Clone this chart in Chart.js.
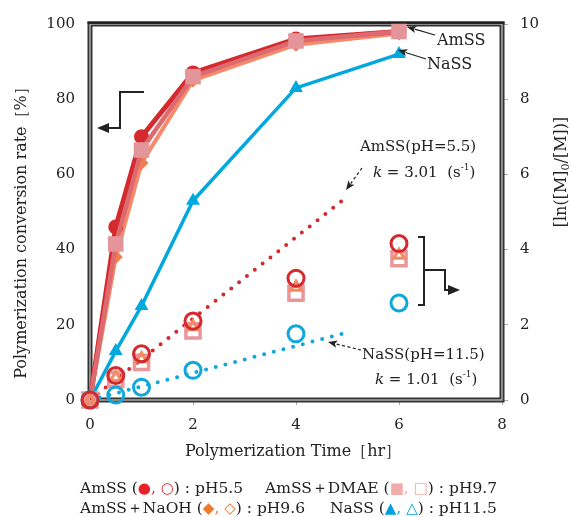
<!DOCTYPE html>
<html>
<head>
<meta charset="utf-8">
<script src="https://cdn.jsdelivr.net/npm/chart.js@4.4.0/dist/chart.umd.min.js"></script>
<style>
  html, body { margin: 0; padding: 0; background: #fff; }
  #wrap { width: 571px; height: 517px; }
</style>
</head>
<body>
<div id="wrap"><canvas id="chart" width="571" height="517"></canvas></div>
<script>
// polymerization time (hr)
const timeHr = [0, 0.5, 1, 2, 4, 6];

// conversion rate (%), left axis
const convAmSS = [0, 46, 70, 87, 96, 98];
const convDMAE = [0, 41.5, 66.5, 86, 95.5, 98];
const convNaOH = [0, 38, 63, 85, 94.5, 97.5];
const convNaSS = [0, 13, 25, 53, 83, 92];

// ln([M]0/[M]), right axis
const lnAmSS = [0, 0.65, 1.23, 2.1, 3.24, 4.16];
const lnDMAE = [0, 0.55, 1.0, 1.84, 2.84, 3.76];
const lnNaOH = [0, 0.6, 1.1, 1.95, 3.0, 3.85];
const lnNaSS = [0, 0.13, 0.34, 0.79, 1.76, 2.58];

// fitted lines (start / end), right axis
const fitX = [0, 4.98];
const fitAmSS = [0, 5.39];
const fitNaSS = [0, 1.79];

const SERIF = "'DejaVu Serif', 'Liberation Serif', serif";
const INK = '#222';

function pts(xs, ys) {
    return xs.map((x, i) => ({ x: x, y: ys[i] }));
}

function arrow(ctx, x1, y1, x2, y2, dashed) {
    ctx.save();
    ctx.strokeStyle = INK;
    ctx.fillStyle = INK;
    ctx.lineWidth = 1.2;
    if (dashed) ctx.setLineDash([3, 2.5]);
    const a = Math.atan2(y2 - y1, x2 - x1);
    const hl = 10;
    ctx.beginPath();
    ctx.moveTo(x1, y1);
    ctx.lineTo(x2 - Math.cos(a) * hl * 0.8, y2 - Math.sin(a) * hl * 0.8);
    ctx.stroke();
    ctx.setLineDash([]);
    ctx.beginPath();
    ctx.moveTo(x2, y2);
    ctx.lineTo(x2 - hl * Math.cos(a - 0.38), y2 - hl * Math.sin(a - 0.38));
    ctx.lineTo(x2 - hl * 0.7 * Math.cos(a), y2 - hl * 0.7 * Math.sin(a));
    ctx.lineTo(x2 - hl * Math.cos(a + 0.38), y2 - hl * Math.sin(a + 0.38));
    ctx.closePath();
    ctx.fill();
    ctx.restore();
}

// draw a list of text runs left to right
function runs(ctx, x, y, list, size) {
    ctx.save();
    ctx.textBaseline = 'middle';
    ctx.textAlign = 'left';
    list.forEach(r => {
        const s = r.size || size;
        ctx.font = (r.italic ? 'italic ' : '') + s + 'px ' + (r.family || SERIF);
        ctx.fillStyle = r.color || INK;
        ctx.fillText(r.t, x, y + (r.dy || 0));
        x += ctx.measureText(r.t).width;
    });
    ctx.restore();
    return x;
}

function kLabel(ctx, x, y, value) {
    runs(ctx, x, y, [
        { t: 'k', italic: true },
        { t: ' = ' + value + '  (s' },
        { t: '-1', size: 9, dy: -5 },
        { t: ')' }
    ], 15);
}

const decor = {
    id: 'decor',
    beforeDatasetsDraw(chart) {
        const { ctx, chartArea: a } = chart;
        ctx.save();
        ctx.strokeStyle = '#333';
        ctx.lineWidth = 5;
        ctx.strokeRect(a.left, a.top, a.right - a.left, a.bottom - a.top);
        ctx.strokeStyle = '#c9c9c9';
        ctx.lineWidth = 1.2;
        ctx.strokeRect(a.left, a.top, a.right - a.left, a.bottom - a.top);
        ctx.fillStyle = '#222';
        ctx.fillRect(a.left - 2.5, a.top - 2.5, a.right - a.left + 5, 2.5);
        ctx.restore();
    },
    afterDatasetsDraw(chart) {
        const ctx = chart.ctx;

        // series labels at the end of the curves
        runs(ctx, 437, 41, [{ t: 'AmSS' }], 16);
        runs(ctx, 427, 65, [{ t: 'NaSS' }], 16);
        arrow(ctx, 435, 35, 407, 27, false);
        arrow(ctx, 426, 59, 398, 50, false);

        // rate constants
        runs(ctx, 360, 147, [{ t: 'AmSS(pH=5.5)' }], 15);
        kLabel(ctx, 373, 173, '3.01');
        arrow(ctx, 362, 168, 346, 190, true);
        runs(ctx, 362, 355, [{ t: 'NaSS(pH=11.5)' }], 15);
        kLabel(ctx, 375, 380, '1.01');
        arrow(ctx, 361, 350, 328, 342, true);

        // axis pointers
        ctx.save();
        ctx.strokeStyle = INK;
        ctx.lineWidth = 2;
        ctx.beginPath();
        ctx.moveTo(144, 92);
        ctx.lineTo(120, 92);
        ctx.lineTo(120, 128);
        ctx.lineTo(106, 128);
        ctx.stroke();
        ctx.beginPath();
        ctx.moveTo(418, 237);
        ctx.lineTo(424, 237);
        ctx.lineTo(424, 305);
        ctx.lineTo(418, 305);
        ctx.moveTo(424, 270);
        ctx.lineTo(445, 270);
        ctx.lineTo(445, 290);
        ctx.lineTo(452, 290);
        ctx.stroke();
        ctx.fillStyle = INK;
        ctx.beginPath();
        ctx.moveTo(97, 128);
        ctx.lineTo(109, 123);
        ctx.lineTo(109, 133);
        ctx.closePath();
        ctx.fill();
        ctx.beginPath();
        ctx.moveTo(460, 290);
        ctx.lineTo(448, 285);
        ctx.lineTo(448, 295);
        ctx.closePath();
        ctx.fill();
        ctx.restore();

        // axis titles
        ctx.save();
        ctx.fillStyle = INK;
        ctx.textAlign = 'center';
        ctx.textBaseline = 'middle';
        ctx.font = '16px ' + SERIF;
        ctx.fillText('Polymerization Time［hr］', 293, 452);
        ctx.translate(22, 229);
        ctx.rotate(-Math.PI / 2);
        ctx.fillText('Polymerization conversion rate［%］', 0, 0);
        ctx.restore();

        ctx.save();
        ctx.translate(562, 172);
        ctx.rotate(-Math.PI / 2);
        const parts = [{ t: '[ln([M]' }, { t: '0', size: 11, dy: 4 }, { t: '/[M])]' }];
        let w = 0;
        parts.forEach(p => {
            ctx.font = (p.size || 16) + 'px ' + SERIF;
            w += ctx.measureText(p.t).width;
        });
        runs(ctx, -w / 2, 0, parts, 16);
        ctx.restore();

        // legend
        const red = '#e8202a', pink = '#f2aaaa', orange = '#f07828', cyan = '#00a0e0';
        const SYM = "'DejaVu Sans', sans-serif";
        runs(ctx, 80, 489, [
            { t: 'AmSS (' },
            { t: '●', color: red, family: SYM, size: 15 },
            { t: ', ', color: red },
            { t: '○', color: red, family: SYM, size: 15 },
            { t: ') : pH5.5' }
        ], 15.5);
        runs(ctx, 265, 489, [
            { t: 'AmSS＋DMAE (' },
            { t: '■', color: pink, family: SYM, size: 15 },
            { t: ', ', color: pink },
            { t: '□', color: pink, family: SYM, size: 15 },
            { t: ') : pH9.7' }
        ], 15.5);
        runs(ctx, 80, 509, [
            { t: 'AmSS＋NaOH (' },
            { t: '◆', color: orange, family: SYM, size: 15 },
            { t: ', ', color: orange },
            { t: '◇', color: orange, family: SYM, size: 15 },
            { t: ') : pH9.6' }
        ], 15.5);
        runs(ctx, 330, 509, [
            { t: 'NaSS (' },
            { t: '▲', color: cyan, family: SYM, size: 15 },
            { t: ', ', color: cyan },
            { t: '△', color: cyan, family: SYM, size: 15 },
            { t: ') : pH11.5' }
        ], 15.5);
    }
};

const ctx = document.getElementById('chart').getContext('2d');

new Chart(ctx, {
    type: 'scatter',
    data: {
        datasets: [
            // open markers, right axis (drawn on top)
            { data: pts(timeHr, lnAmSS), yAxisID: 'y1', pointStyle: 'circle', pointRadius: 8, borderColor: '#d42a2e', backgroundColor: 'transparent', borderWidth: 3, clip: false },
            { data: pts(timeHr, lnNaSS), yAxisID: 'y1', pointStyle: 'circle', pointRadius: 8, borderColor: '#10a8dc', backgroundColor: 'transparent', borderWidth: 3, clip: false },
            { data: pts(timeHr, lnNaOH), yAxisID: 'y1', pointStyle: 'triangle', pointRadius: 6, borderColor: '#f58a62', backgroundColor: 'transparent', borderWidth: 3, clip: false },
            { data: pts(timeHr, lnDMAE), yAxisID: 'y1', pointStyle: 'rect', pointRadius: 10, borderColor: '#e8989c', backgroundColor: 'transparent', borderWidth: 3.5, clip: false },
            // fitted dotted lines
            { data: pts(fitX, fitAmSS), yAxisID: 'y1', showLine: true, pointRadius: 0, borderColor: '#d42a2e', borderWidth: 4, borderDash: [0, 10], borderCapStyle: 'round' },
            { data: pts(fitX, fitNaSS), yAxisID: 'y1', showLine: true, pointRadius: 0, borderColor: '#10a8dc', borderWidth: 4, borderDash: [0, 10], borderCapStyle: 'round' },
            // conversion curves, left axis
            { data: pts(timeHr, convDMAE), yAxisID: 'y', showLine: true, pointStyle: 'rect', pointRadius: 11, borderColor: '#dc6a70', borderWidth: 4.5, pointBackgroundColor: '#e4959a', pointBorderColor: '#e4959a', pointBorderWidth: 0, clip: false },
            { data: pts(timeHr, convAmSS), yAxisID: 'y', showLine: true, pointStyle: 'circle', pointRadius: 7.5, borderColor: '#d42a2e', borderWidth: 5, pointBackgroundColor: '#d42a2e', pointBorderColor: '#d42a2e', pointBorderWidth: 0, clip: false },
            { data: pts(timeHr, convNaOH), yAxisID: 'y', showLine: true, pointStyle: 'rectRot', pointRadius: 7, borderColor: '#f58a68', borderWidth: 4, pointBackgroundColor: '#f07c50', pointBorderColor: '#f07c50', pointBorderWidth: 0, clip: false },
            { data: pts(timeHr, convNaSS), yAxisID: 'y', showLine: true, pointStyle: 'triangle', pointRadius: 8, borderColor: '#00a8de', borderWidth: 3.5, pointBackgroundColor: '#00a8de', pointBorderColor: '#00a8de', pointBorderWidth: 0, clip: false }
        ]
    },
    options: {
        responsive: false,
        animation: false,
        devicePixelRatio: 1,
        events: [],
        layout: { padding: { top: 19, left: 0, right: 0, bottom: 0 } },
        plugins: { legend: { display: false }, tooltip: { enabled: false } },
        scales: {
            x: {
                type: 'linear', position: 'bottom', min: 0, max: 8,
                ticks: { stepSize: 2, color: INK, padding: 11, font: { family: SERIF, size: 15 } },
                grid: { drawOnChartArea: false, drawTicks: true, tickLength: 5, color: '#aaa' },
                border: { display: false },
                afterFit(s) { s.height = 117; }
            },
            y: {
                position: 'left', min: 0, max: 100,
                ticks: { stepSize: 20, color: INK, padding: 15, font: { family: SERIF, size: 15 } },
                grid: { drawOnChartArea: false, drawTicks: false },
                border: { display: false },
                afterFit(s) { s.width = 90; }
            },
            y1: {
                position: 'right', min: 0, max: 10,
                ticks: { stepSize: 2, color: INK, padding: 12, font: { family: SERIF, size: 15 } },
                grid: { drawOnChartArea: false, drawTicks: true, tickLength: 6, color: '#aaa' },
                border: { display: false },
                afterFit(s) { s.width = 69; }
            }
        }
    },
    plugins: [decor]
});
</script>
</body>
</html>
